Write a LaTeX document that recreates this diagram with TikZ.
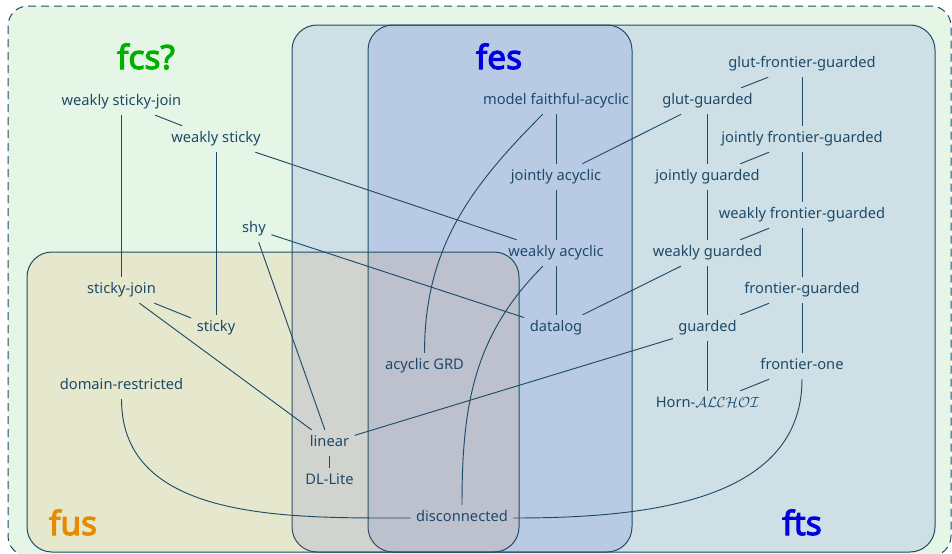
\documentclass[tikz,border=0pt]{standalone}
\usepackage{fontspec}
\setmainfont{Noto Sans}
\newfontfamily\titlefont{Noto Sans}[FakeBold=3.2]
\definecolor{txtc}{RGB}{30,74,106}
\definecolor{linec}{RGB}{28,76,104}
\definecolor{fcsfill}{RGB}{5,165,5}
\definecolor{bluefill}{RGB}{0,20,225}
\definecolor{fusfill}{RGB}{230,106,0}
\definecolor{fcstitle}{RGB}{0,176,0}
\definecolor{bluetitle}{RGB}{0,0,225}
\definecolor{fustitle}{RGB}{230,138,0}
\begin{document}
\begin{tikzpicture}[x=0.75pt,y=-0.75pt,
  cls/.style={text=txtc, font=\fontsize{11}{13}\selectfont,
    inner xsep=4pt, inner ysep=4.5pt, text height=7.8pt, text depth=2.6pt},
  conn/.style={draw=linec, line width=0.7pt},
  region/.style={draw=linec, line width=0.75pt, rounded corners=18.75pt, fill opacity=0.1},
  ttl/.style={font=\titlefont\fontsize{25}{30}\selectfont, anchor=base}]
\useasboundingbox (0,0) rectangle (952,553);

% class regions
\draw[region, rounded corners=15pt, fill=fcsfill, dash pattern=on 6pt off 3.75pt]
  (8,6) rectangle (951,556);
\draw[region, fill=bluefill] (292,25) rectangle (935,552);
\draw[region, fill=bluefill] (368,25) rectangle (632,552);
\draw[region, fill=fusfill] (27,252) rectangle (519,552);

% region titles
\node[ttl, text=fcstitle] (tfcs) at (146,69) {fcs?};
\node[ttl, text=bluetitle] (tfes) at (499,69) {fes};
\node[ttl, text=fustitle] (tfus) at (73,535) {fus};
\node[ttl, text=bluetitle] (tfts) at (802,535) {fts};

% rule classes
\node[cls] (wsj) at (121.5,102) {weakly sticky-join};
\node[cls] (ws) at (216,139) {weakly sticky};
\node[cls] (shy) at (254,229) {shy};
\node[cls] (sj) at (121.5,290) {sticky-join};
\node[cls] (st) at (216,328) {sticky};
\node[cls] (dr) at (121.5,386) {domain-restricted};
\node[cls] (lin) at (329.5,443) {linear};
\node[cls] (dll) at (329.5,481) {DL-Lite};
\node[cls] (disc) at (462,518) {disconnected};
\node[cls] (agrd) at (424.5,366) {acyclic GRD};
\node[cls] (mfa) at (556,101) {model faithful-acyclic};
\node[cls] (ja) at (556,177) {jointly acyclic};
\node[cls] (wa) at (556,253) {weakly acyclic};
\node[cls] (dat) at (556,328) {datalog};
\node[cls] (gfg) at (802,64) {glut-frontier-guarded};
\node[cls] (gg) at (707.5,101) {glut-guarded};
\node[cls] (jfg) at (802,139) {jointly frontier-guarded};
\node[cls] (jg) at (707.5,177) {jointly guarded};
\node[cls] (wfg) at (802,215) {weakly frontier-guarded};
\node[cls] (wg) at (707.5,253) {weakly guarded};
\node[cls] (fg) at (802,290) {frontier-guarded};
\node[cls] (gd) at (707.5,328) {guarded};
\node[cls] (fo) at (802,366) {frontier-one};
\node[cls] (horn) at (707.5,404) {Horn-$\mathcal{ALCHOI}$};

% inclusions
\draw[conn] (wsj) -- (sj);
\draw[conn] (wsj) -- (ws);
\draw[conn] (ws) -- (st);
\draw[conn] (ws) -- (wa);
\draw[conn] (shy) -- (dat);
\draw[conn] (shy) -- (lin);
\draw[conn] (sj) -- (st);
\draw[conn] (sj) -- (lin);
\draw[conn] (lin) -- (dll);
\draw[conn] (lin) -- (gd);
\draw[conn] (mfa) -- (ja);
\draw[conn] (ja) -- (wa);
\draw[conn] (wa) -- (dat);
\draw[conn] (gg) -- (ja);
\draw[conn] (gfg) -- (gg);
\draw[conn] (gfg) -- (jfg);
\draw[conn] (gg) -- (jg);
\draw[conn] (jfg) -- (jg);
\draw[conn] (jfg) -- (wfg);
\draw[conn] (jg) -- (wg);
\draw[conn] (wfg) -- (wg);
\draw[conn] (wfg) -- (fg);
\draw[conn] (wg) -- (dat);
\draw[conn] (wg) -- (gd);
\draw[conn] (fg) -- (gd);
\draw[conn] (gd) -- (horn);
\draw[conn] (fg) -- (fo);
\draw[conn] (fo) -- (horn);
\draw[conn] (dr) to[out=-90, in=180] (disc);
\draw[conn] (mfa) to[out=-135, in=90] (agrd);
\draw[conn] (wa) to[out=-135, in=90] (disc);
\draw[conn] (fo) to[out=-90, in=0] (disc);
\end{tikzpicture}
\end{document}
